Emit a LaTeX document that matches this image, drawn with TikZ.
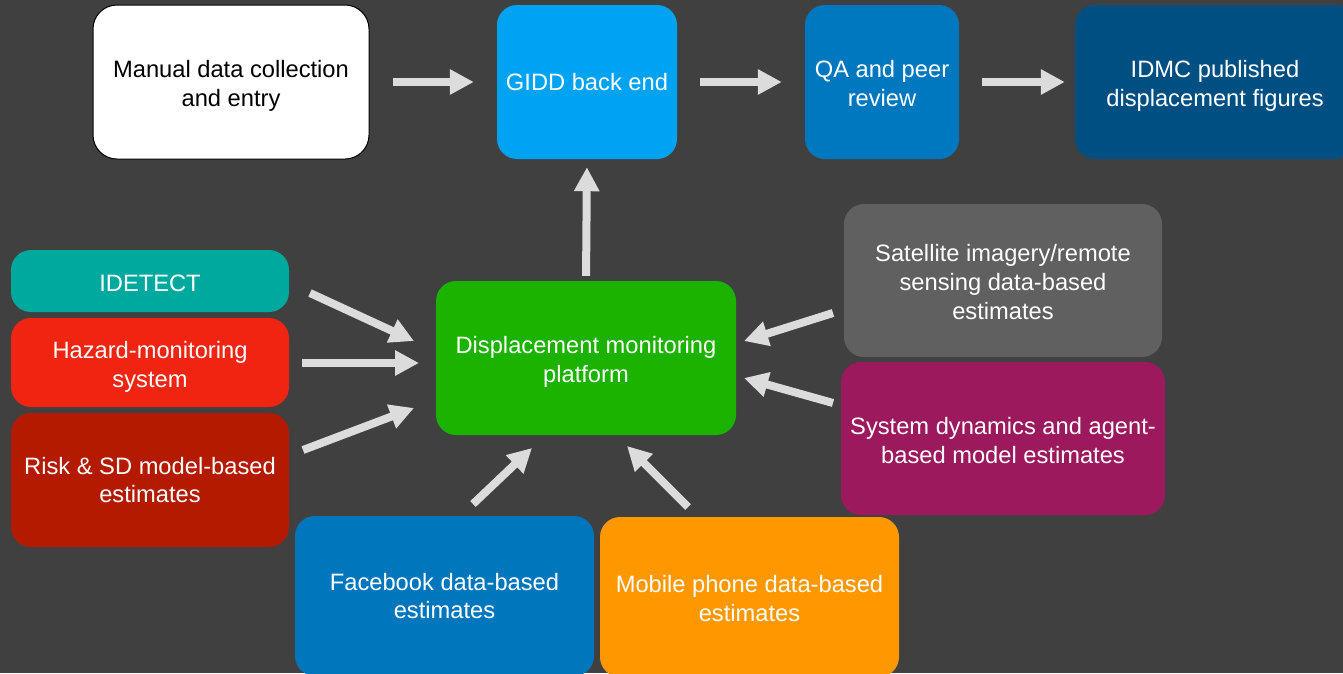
\documentclass[tikz,border=0pt]{standalone}
\usepackage{fontspec}
\setmainfont{Liberation Sans}
\usetikzlibrary{arrows.meta}
\definecolor{bg}{HTML}{404040}
\definecolor{arrowc}{HTML}{DCDCDC}
\definecolor{giddc}{HTML}{00A2F2}
\definecolor{qac}{HTML}{0078C0}
\definecolor{idmcc}{HTML}{004F82}
\definecolor{idetc}{HTML}{00A99D}
\definecolor{hazc}{HTML}{EF2411}
\definecolor{riskc}{HTML}{B41A00}
\definecolor{dispc}{HTML}{1CB200}
\definecolor{satc}{HTML}{606060}
\definecolor{sysc}{HTML}{9B195C}
\definecolor{fbc}{HTML}{0076BD}
\definecolor{mobc}{HTML}{FF9700}
% lowers the text of a node by #1 pt (strut on the first line)
\newcommand{\txtdown}[1]{\rule{0pt}{\dimexpr17.3pt+#1pt*2\relax}}
\tikzset{
  box/.style={rectangle, rounded corners=20pt, inner sep=0pt, align=center,
    text=white, font=\fontsize{23.7}{28.8}\selectfont},
  flow/.style={draw=arrowc, line width=8pt, -{Triangle[width=24pt,length=24pt]}}
}
\begin{document}
\begin{tikzpicture}[x=1pt,y=-1pt]
\fill[bg] (0,0) rectangle (1343,673);
\useasboundingbox (0,0) rectangle (1343,673);
% top row
\node[box, fill=white, draw=black, line width=1pt, text=black, rounded corners=24pt,
  minimum width=276pt, minimum height=154pt] (manual) at (231,82) {\txtdown{4}Manual data collection\\and entry};
\node[box, fill=giddc, minimum width=180pt, minimum height=154pt] (gidd) at (587,82) {GIDD back end};
\node[box, fill=qac, minimum width=154pt, minimum height=154pt] (qa) at (882,82) {\txtdown{1.5}QA and peer\\review};
\node[box, fill=idmcc, minimum width=280pt, minimum height=154pt] (idmc) at (1215,82) {\txtdown{4}IDMC published\\displacement figures};
% left column
\node[box, fill=idetc, minimum width=278pt, minimum height=62pt] (idet) at (150,281) {\txtdown{1.5}IDETECT};
\node[box, fill=hazc, minimum width=278pt, minimum height=89pt] (haz) at (150,362.5) {\txtdown{4}Hazard-monitoring\\system};
\node[box, fill=riskc, minimum width=278pt, minimum height=134pt] (risk) at (150,480) {Risk \& SD model-based\\estimates};
% centre
\node[box, fill=dispc, minimum width=300pt, minimum height=154pt] (disp) at (586,358) {\txtdown{3.5}Displacement monitoring\\platform};
% right column
\node[box, fill=satc, minimum width=318pt, minimum height=153pt] (sat) at (1003,280.5) {\txtdown{1.5}Satellite imagery/remote\\sensing data-based\\estimates};
\node[box, fill=sysc, minimum width=324pt, minimum height=153pt] (sys) at (1003,438.5) {\txtdown{2}System dynamics and agent-\\based model estimates};
% bottom row
\node[box, fill=fbc, minimum width=299pt, minimum height=160pt] (fb) at (444.5,596) {Facebook data-based\\estimates};
\node[box, fill=mobc, minimum width=299pt, minimum height=160pt] (mob) at (749.5,597) {\txtdown{1.5}Mobile phone data-based\\estimates};
% arrow end points
\coordinate (idetS) at (310,293);
\coordinate (idetE) at (414,341);
\coordinate (hazS) at (302,363);
\coordinate (hazE) at (419,363);
\coordinate (riskS) at (303,450);
\coordinate (riskE) at (414,408);
\coordinate (satS) at (833,313);
\coordinate (satE) at (744,341);
\coordinate (sysS) at (833,403);
\coordinate (sysE) at (744,378);
\coordinate (fbS) at (473,504);
\coordinate (fbE) at (532,448);
\coordinate (mobS) at (688,507);
\coordinate (mobE) at (627,446);
% arrows
\draw[flow, shorten <=23pt, shorten >=23pt] (manual.east) -- (gidd.west);
\draw[flow, shorten <=23pt, shorten >=23pt] (gidd.east) -- (qa.west);
\draw[flow, shorten <=23pt, shorten >=10pt] (qa.east) -- (idmc.west);
\draw[flow, shorten <=5pt, shorten >=8pt] (disp.north) -- (gidd.south);
\draw[flow] (idetS) -- (idetE);
\draw[flow] (hazS) -- (hazE);
\draw[flow] (riskS) -- (riskE);
\draw[flow] (satS) -- (satE);
\draw[flow] (sysS) -- (sysE);
\draw[flow] (fbS) -- (fbE);
\draw[flow] (mobS) -- (mobE);
\end{tikzpicture}
\end{document}
